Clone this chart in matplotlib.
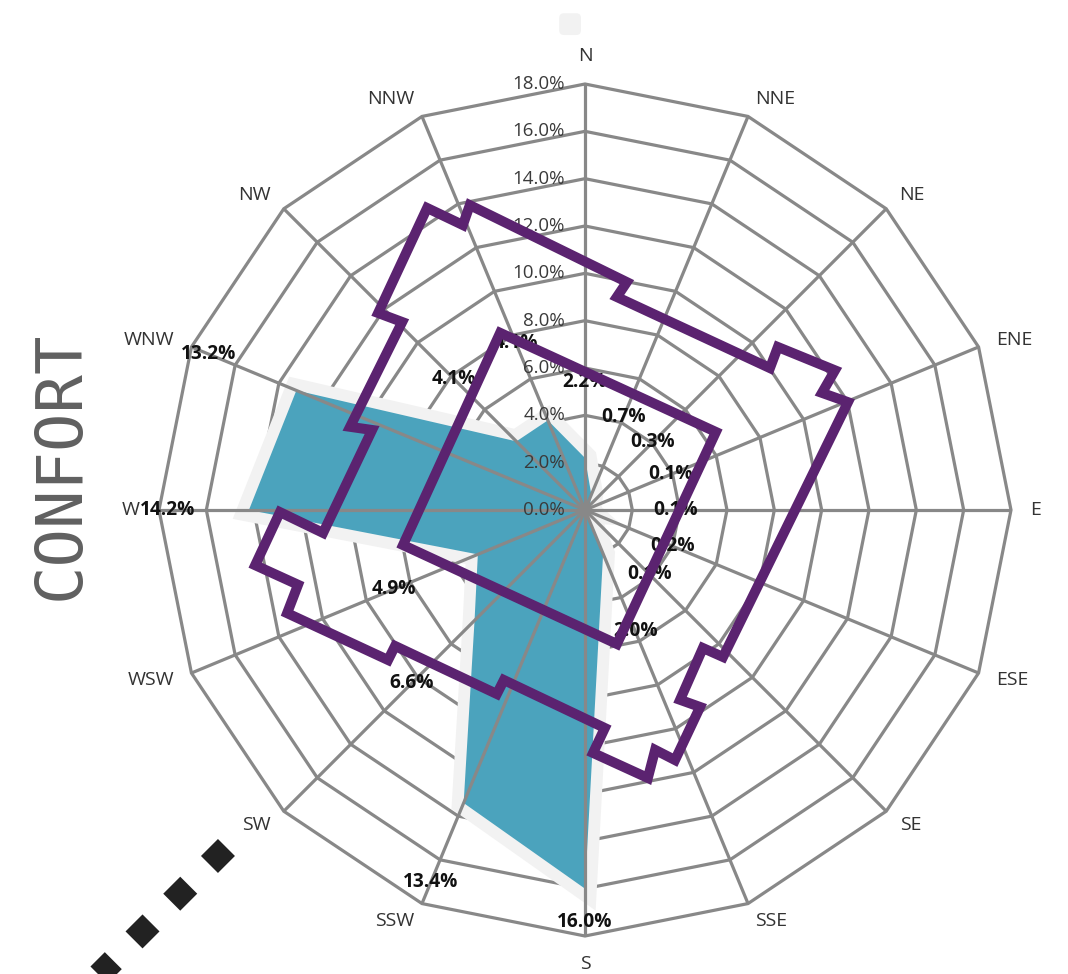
import numpy as np
import matplotlib
matplotlib.use('Agg')
import matplotlib.pyplot as plt
from matplotlib.patches import Polygon, FancyBboxPatch

# ---------------- data ----------------
directions = ['N', 'NNE', 'NE', 'ENE', 'E', 'ESE', 'SE', 'SSE',
              'S', 'SSW', 'SW', 'WSW', 'W', 'WNW', 'NW', 'NNW']
frequency = [2.2, 0.7, 0.3, 0.1, 0.1, 0.2, 0.1, 2.0,
             16.0, 13.4, 6.6, 4.9, 14.2, 13.2, 4.1, 4.1]
ring_ticks = [0, 2, 4, 6, 8, 10, 12, 14, 16, 18]
tick_labels = ['0.0%', '2.0%', '4.0%', '6.0%', '8.0%', '10.0%',
               '12.0%', '14.0%', '16.0%', '18.0%']

# comfort zones (bearing in degrees clockwise from N, radius in %)
inner_zone_bearing = [334.4, 59.2, 166.6, 259.1]
inner_zone_radius = [8.30, 6.44, 5.82, 7.83]
outer_zone_bearing = [332.4, 336.8, 339.3, 10.4, 8.5, 52.5, 49.8, 60.8, 63.7, 67.7,
                      136.8, 139.5, 153.4, 149.7, 160.2, 163.7, 166.8, 178.1, 174.8,
                      205.5, 205.6, 234.4, 232.7, 250.9, 255.4, 260.5, 269.6, 265.0,
                      290.6, 289.5, 315.8, 313.6]
outer_zone_radius = [14.40, 13.10, 13.77, 9.79, 9.10, 9.85, 10.67, 12.10, 11.17, 12.01,
                     8.52, 7.67, 8.97, 9.64, 11.23, 10.56, 11.63, 10.27, 9.25,
                     7.96, 8.62, 9.87, 10.46, 13.32, 12.53, 14.13, 12.89, 11.11,
                     9.61, 10.53, 11.08, 12.07]

# ---------------- styling ----------------
GRID = '#888888'
TEAL = '#4ba3bd'
BORDER = '#f2f2f2'
PURPLE = '#5b2370'
FONT = ['Open Sans', 'Noto Sans', 'DejaVu Sans']

W, H = 1068, 974
fig = plt.figure(figsize=(W / 100, H / 100), dpi=100)
ax = fig.add_axes([0, 0, 1, 1])
s = 426 / 18.0          # pixels per percent
cx, cy = 585, 510       # centre in pixels (from top-left)
ax.set_xlim(-cx / s, (W - cx) / s)
ax.set_ylim(-(H - cy) / s, cy / s)
ax.set_aspect('equal')
ax.axis('off')

n = len(directions)
ang = np.deg2rad(np.arange(n) * 360.0 / n)
rmax = ring_ticks[-1]


def xy(bearing_rad, r):
    return np.asarray(r) * np.sin(bearing_rad), np.asarray(r) * np.cos(bearing_rad)


# rings
for t in ring_ticks[1:]:
    x, y = xy(ang, t)
    ax.add_patch(Polygon(np.column_stack([x, y]), closed=True, fill=False,
                         edgecolor=GRID, lw=2.3, zorder=1))

# teal series with light border
fx, fy = xy(ang, frequency)
pts = np.column_stack([fx, fy])
ax.add_patch(Polygon(pts, closed=True, facecolor=BORDER, edgecolor=BORDER,
                     lw=17, joinstyle='miter', zorder=2))
ax.add_patch(Polygon(pts, closed=True, facecolor=TEAL, edgecolor='none', zorder=3))

# spokes
for a in ang:
    x, y = xy(a, rmax)
    ax.plot([0, x], [0, y], color=GRID, lw=2.3, zorder=4, solid_capstyle='butt')

# tick labels
for t, lab in zip(ring_ticks, tick_labels):
    ax.text(-0.85, t, lab, ha='right', va='center', fontsize=13.5,
            color='#3a3a3a', family=FONT, zorder=5)

# direction labels (point-label style: aligned away from the centre)
for a, d in zip(ang, directions):
    x, y = xy(a, 18.8)
    sa, ca = np.sin(a), np.cos(a)
    ha = 'left' if sa > 0.05 else ('right' if sa < -0.05 else 'center')
    va = 'bottom' if ca > 0.99 else ('top' if ca < -0.99 else 'center')
    ax.text(x, y, d, ha=ha, va=va, fontsize=14,
            color='#333333', family=FONT, zorder=5)

# data labels: box placed beyond the point, clamped to the chart area
fig.canvas.draw()
renderer = fig.canvas.get_renderer()
gap_px = 66
left_px, bottom_px = 140, 932
for a, v in zip(ang, frequency):
    t = ax.text(0, 0, f'{v:.1f}%', ha='center', va='center', fontsize=13.8,
                fontweight='bold', color='#111111', family=FONT, zorder=6)
    bb = t.get_window_extent(renderer)
    w, h = bb.width, bb.height
    sa, ca = np.sin(a), np.cos(a)
    ext = abs(sa) * w / 2 + abs(ca) * h / 2
    rp = v * s + gap_px + ext
    px = cx + rp * sa
    py = cy - rp * ca          # from top
    px = max(px, left_px + w / 2)
    py = min(py, bottom_px - h / 2)
    t.set_position(((px - cx) / s, (cy - py) / s))

# comfort zones
ix, iy = xy(np.deg2rad(inner_zone_bearing), inner_zone_radius)
ax.add_patch(Polygon(np.column_stack([ix, iy]), closed=True, fill=False,
                     edgecolor=PURPLE, lw=7.2, joinstyle='miter', zorder=7))
ox, oy = xy(np.deg2rad(outer_zone_bearing), outer_zone_radius)
ax.add_patch(Polygon(np.column_stack([ox, oy]), closed=True, fill=False,
                     edgecolor=PURPLE, lw=7.2, joinstyle='miter', zorder=7))

# legend marker
ax.add_patch(FancyBboxPatch((-0.63 - 0.36, 20.53 - 0.36), 0.72, 0.72,
                            boxstyle='round,pad=0.1,rounding_size=0.2',
                            facecolor=BORDER, edgecolor='none', zorder=5))

# side title
ax.text(-22.14, 1.9, 'CONFORT', rotation=90, ha='center', va='center',
        fontsize=46, family='DejaVu Sans Mono', color='#606060', zorder=5)

# decorative diamond line
ax.plot([-15.15, -23.5], [-14.26, -22.61], color='#222222', lw=17.3,
        dashes=(1, 1.22), solid_capstyle='butt', dash_capstyle='butt', zorder=5)

fig.savefig('out.png', dpi=100)
